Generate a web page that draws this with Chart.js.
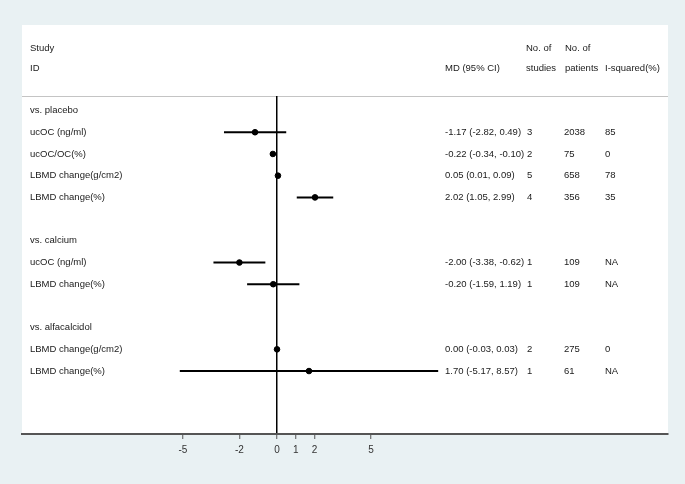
<!DOCTYPE html>
<html>
<head>
<meta charset="utf-8">
<script src="https://cdn.jsdelivr.net/npm/chart.js@4/dist/chart.umd.min.js"></script>
<style>
  html, body { margin: 0; padding: 0; background: #e9f1f3; }
  #wrap { width: 685px; height: 484px; }
</style>
</head>
<body>
<div id="wrap"><canvas id="forest" width="685" height="484"></canvas></div>
<script>
// rows of the forest plot, top to bottom (null = no estimate on that row)
const rowLabels = ['vs. placebo', 'ucOC (ng/ml)', 'ucOC/OC(%)', 'LBMD change(g/cm2)', 'LBMD change(%)', '',
    'vs. calcium', 'ucOC (ng/ml)', 'LBMD change(%)', '',
    'vs. alfacalcidol', 'LBMD change(g/cm2)', 'LBMD change(%)']
const md = [null, -1.17, -0.22, 0.05, 2.02, null, null, -2.00, -0.20, null, null, 0.00, 1.70]
const lower = [null, -2.82, -0.34, 0.01, 1.05, null, null, -3.38, -1.59, null, null, -0.03, -5.17]
const upper = [null, 0.49, -0.10, 0.09, 2.99, null, null, -0.62, 1.19, null, null, 0.03, 8.57]
const nStudies = ['', '3', '2', '5', '4', '', '', '1', '1', '', '', '2', '1']
const nPatients = ['', '2038', '75', '658', '356', '', '', '109', '109', '', '', '275', '61']
const iSquared = ['', '85', '0', '78', '35', '', '', 'NA', 'NA', '', '', '0', 'NA']
const xTicks = [-5, -2, 0, 1, 2, 5]

const FONT = '9.5px "Liberation Sans", Arial, sans-serif'
const TEXT = '#1a1a1a'

function mdText(i) {
    if (md[i] === null) return ''
    return md[i].toFixed(2) + ' (' + lower[i].toFixed(2) + ', ' + upper[i].toFixed(2) + ')'
}

// CI whiskers, one small line dataset per row
var ciSets = []
md.forEach((v, i) => {
    if (v === null) return
    ciSets.push({
        type: 'line',
        data: [{ x: lower[i], y: i }, { x: upper[i], y: i }],
        borderColor: '#000',
        borderWidth: 2,
        pointRadius: 0,
        fill: false
    })
})

var pointSet = {
    type: 'scatter',
    data: md.map((v, i) => v === null ? null : { x: v, y: i }).filter(p => p),
    backgroundColor: '#000',
    borderColor: '#000',
    pointRadius: 2.8,
    pointHoverRadius: 2.8
}

/*********************************************
 * panel background, header rule and the text columns
 *********************************************/
const tablePlugin = {
    id: 'table',
    beforeDraw(chart) {
        const c = chart.ctx, a = chart.chartArea
        c.save()
        c.fillStyle = '#e9f1f3'
        c.fillRect(0, 0, chart.width, chart.height)
        c.fillStyle = '#ffffff'
        c.fillRect(a.left, 25, a.right - a.left, a.bottom - 25)
        c.strokeStyle = '#c4c4c4'
        c.lineWidth = 1
        c.beginPath()
        c.moveTo(a.left, a.top + 0.5)
        c.lineTo(a.right, a.top + 0.5)
        c.stroke()
        c.restore()
    },
    afterDraw(chart) {
        const c = chart.ctx, ys = chart.scales.y
        c.save()
        c.font = FONT
        c.fillStyle = TEXT
        c.textAlign = 'left'
        c.textBaseline = 'middle'
        const h1 = ys.getPixelForValue(-2.88), h2 = ys.getPixelForValue(-1.96)
        c.fillText('Study', 30, h1)
        c.fillText('ID', 30, h2)
        c.fillText('MD (95% CI)', 445, h2)
        c.fillText('No. of', 526, h1)
        c.fillText('studies', 526, h2)
        c.fillText('No. of', 565, h1)
        c.fillText('patients', 565, h2)
        c.fillText('I-squared(%)', 605, h2)
        rowLabels.forEach((lab, i) => {
            const y = ys.getPixelForValue(i)
            c.fillText(lab, 30, y)
            c.fillText(mdText(i), 445, y)
            c.fillText(nStudies[i], 527, y)
            c.fillText(nPatients[i], 564, y)
            c.fillText(iSquared[i], 605, y)
        })
        c.restore()
    }
}

new Chart('forest', {
    data: { datasets: ciSets.concat([pointSet]) },
    options: {
        responsive: false,
        animation: false,
        layout: { padding: { left: 22, right: 17, top: 96, bottom: 0 } },
        plugins: { legend: { display: false }, tooltip: { enabled: false } },
        scales: {
            x: {
                type: 'linear',
                position: 'bottom',
                min: -13.56,
                max: 20.79,
                afterBuildTicks: (s) => { s.ticks = xTicks.map(v => ({ value: v })) },
                afterFit: (s) => { s.height = 50 },
                border: { display: true, color: '#555', width: 2 },
                grid: {
                    drawOnChartArea: true,
                    color: (ctx) => (ctx.tick && ctx.tick.value === 0) ? '#000' : 'rgba(0,0,0,0)',
                    lineWidth: 1.5,
                    drawTicks: true,
                    tickLength: 5,
                    tickColor: '#555',
                    tickWidth: 1
                },
                ticks: {
                    autoSkip: false,
                    maxRotation: 0,
                    padding: 5,
                    color: '#333',
                    font: { family: '"Liberation Sans", Arial, sans-serif', size: 10 },
                    callback: (v) => String(v)
                }
            },
            y: {
                type: 'linear',
                display: false,
                reverse: true,
                min: -0.67,
                max: 14.9
            }
        }
    },
    plugins: [tablePlugin]
})
</script>
</body>
</html>
